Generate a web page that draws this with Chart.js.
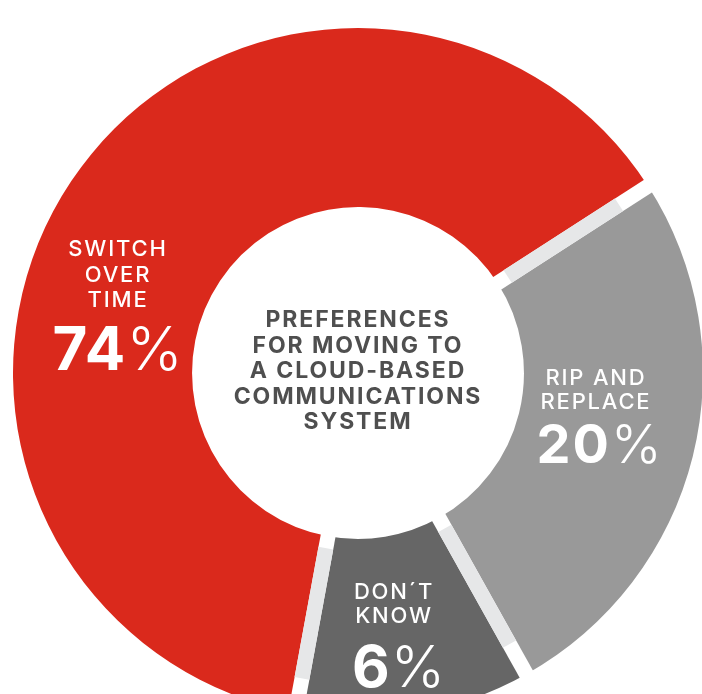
<!DOCTYPE html>
<html>
<head>
<meta charset="utf-8">
<script src="https://cdn.jsdelivr.net/npm/chart.js@4.4.0/dist/chart.umd.min.js"></script>
<style>
  html, body { margin:0; padding:0; background:#fff; width:702px; height:694px; overflow:hidden; }
  #wrap { position:absolute; left:13px; top:28px; width:690px; height:690px; }
  .lbl { position:absolute; text-align:center; white-space:nowrap; font-family:Inter, "Noto Sans", sans-serif; }
  .white { color:#fff; font-weight:500; font-size:22px; letter-spacing:1.8px; }
  .big { color:#fff; font-weight:700; letter-spacing:1px; }
  .big span { font-weight:300; }
  #center { color:#4f4f4f; font-weight:700; font-size:23px; line-height:25.5px; letter-spacing:1.9px; }
</style>
</head>
<body>
<div id="wrap"><canvas id="c"></canvas></div>

<div id="center" class="lbl" style="left:208px; width:300px; top:307px;"></div>
<div id="l0" class="lbl white" style="left:38px; width:160px; top:236px; line-height:25.5px;"></div>
<div id="p0" class="lbl big" style="left:38px; width:160px; top:318px; font-size:60px; line-height:60px;"></div>
<div id="l1" class="lbl white" style="left:516px; width:160px; top:366px; line-height:23.5px;"></div>
<div id="p1" class="lbl big" style="left:520px; width:160px; top:417px; font-size:54px; line-height:54px; letter-spacing:2px;"></div>
<div id="l2" class="lbl white" style="left:314px; width:160px; top:579px; line-height:24px;"></div>
<div id="p2" class="lbl big" style="left:319px; width:160px; top:637px; font-size:58px; line-height:58px;"></div>

<script>
// ---- data ----
const categories = ['SWITCH\nOVER\nTIME', 'RIP AND\nREPLACE', 'DON´T\nKNOW'];
const statedPercent = [74, 20, 6];          // numbers printed on the chart
const arcShare = [63, 26, 11];              // slice sizes as drawn in the picture
const sliceColors = ['#da291c', '#999999', '#666666'];
const centerTitle = ['PREFERENCES', 'FOR MOVING TO', 'A CLOUD-BASED', 'COMMUNICATIONS', 'SYSTEM'];

// ---- text ----
document.getElementById('center').innerHTML = centerTitle.join('<br>');
categories.forEach((c, i) => {
  document.getElementById('l' + i).innerHTML = c.split('\n').join('<br>');
  document.getElementById('p' + i).innerHTML = statedPercent[i] + '<span>%</span>';
});

// ---- gap separators (white strip with light grey band) ----
const GAP = 15;
const gapPlugin = {
  id: 'gaps',
  afterDatasetsDraw(chart) {
    const meta = chart.getDatasetMeta(0);
    const ctx = chart.ctx;
    meta.data.forEach(arc => {
      const p = arc.getProps(['x', 'y', 'startAngle', 'innerRadius', 'outerRadius'], true);
      ctx.save();
      ctx.translate(p.x, p.y);
      ctx.rotate(p.startAngle);
      ctx.fillStyle = '#ffffff';
      ctx.fillRect(p.innerRadius - 3, -GAP / 2, p.outerRadius - p.innerRadius + 6, GAP);
      ctx.fillStyle = '#e6e7e8';
      const r0 = p.outerRadius * 0.516, r1 = p.outerRadius * 0.9;
      ctx.fillRect(r0, -GAP / 2, r1 - r0, GAP);
      ctx.restore();
    });
  }
};

new Chart(document.getElementById('c'), {
  type: 'doughnut',
  data: {
    labels: categories.map(c => c.replace(/\n/g, ' ')),
    datasets: [{
      data: arcShare,
      backgroundColor: sliceColors,
      borderWidth: 0,
      hoverOffset: 0
    }]
  },
  options: {
    responsive: true,
    maintainAspectRatio: false,
    animation: false,
    cutout: '48.1%',
    rotation: 190.4,
    layout: { padding: 0 },
    plugins: { legend: { display: false }, tooltip: { enabled: false } },
    events: []
  },
  plugins: [gapPlugin]
});
</script>
</body>
</html>
